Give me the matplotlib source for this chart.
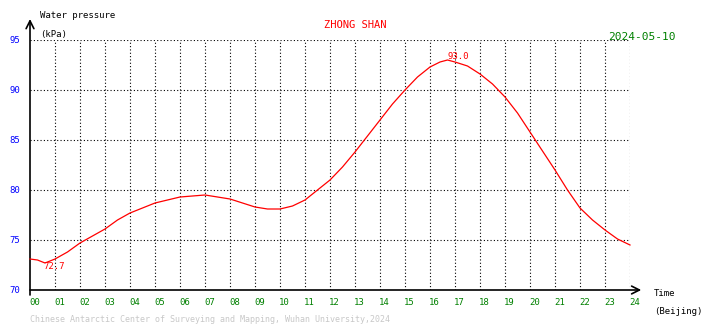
import matplotlib
matplotlib.use("Agg")
import matplotlib.pyplot as plt

# station and date
station = "ZHONG SHAN"
day = "2024-05-10"

# water pressure (kPa) against Beijing time (hours)
hours = [0.0, 0.3, 0.6, 1.0, 1.5, 2.0, 2.5, 3.0, 3.5, 4.0, 4.5, 5.0, 5.5, 6.0,
         6.5, 7.0, 7.5, 8.0, 8.5, 9.0, 9.5, 10.0, 10.5, 11.0, 11.5, 12.0,
         12.5, 13.0, 13.5, 14.0, 14.5, 15.0, 15.5, 16.0, 16.4, 16.7, 17.0,
         17.5, 18.0, 18.5, 19.0, 19.5, 20.0, 20.5, 21.0, 21.5, 22.0, 22.5,
         23.0, 23.5, 24.0]
pressure = [73.1, 73.0, 72.7, 73.1, 73.8, 74.7, 75.4, 76.1, 77.0, 77.7, 78.2,
            78.7, 79.0, 79.3, 79.4, 79.5, 79.3, 79.1, 78.7, 78.3, 78.1, 78.1,
            78.4, 79.0, 80.0, 81.0, 82.3, 83.8, 85.4, 87.0, 88.6, 90.0, 91.3,
            92.3, 92.8, 93.0, 92.8, 92.4, 91.6, 90.6, 89.3, 87.7, 85.8, 83.9,
            82.0, 80.0, 78.2, 77.0, 76.0, 75.1, 74.5]

y_ticks = [70, 75, 80, 85, 90, 95]
x_ticks = list(range(0, 25))
x_labels = ["%02d" % h for h in x_ticks]

font = "DejaVu Sans Mono"
fs = 6.5

fig = plt.figure(figsize=(7.1, 3.28), dpi=100)
ax = fig.add_axes([30 / 710, 38 / 328, 600 / 710, 250 / 328])
ax.set_xlim(0, 24)
ax.set_ylim(70, 95)
for s in ax.spines.values():
    s.set_visible(False)
ax.set_xticks([])
ax.set_yticks([])

# dotted grid
for h in x_ticks[1:]:
    ax.plot([h, h], [70, 95], color="black", lw=0.8, ls=(0, (1, 2)), zorder=1)
for v in y_ticks[1:]:
    ax.plot([0, 24], [v, v], color="black", lw=0.8, ls=(0, (1, 2)), zorder=1)

# axes with open arrow heads
ax.annotate("", xy=(24.45, 70), xytext=(0, 70), xycoords="data",
            arrowprops=dict(arrowstyle="->", lw=1.2, color="black",
                            mutation_scale=14, shrinkA=0, shrinkB=0),
            annotation_clip=False)
ax.annotate("", xy=(0, 97.1), xytext=(0, 69.5), xycoords="data",
            arrowprops=dict(arrowstyle="->", lw=1.2, color="black",
                            mutation_scale=14, shrinkA=0, shrinkB=0),
            annotation_clip=False)

# the pressure curve
ax.plot(hours, pressure, color="red", lw=0.9, zorder=3, clip_on=False)

# min / max labels
imin = pressure.index(min(pressure))
imax = pressure.index(max(pressure))
ax.text(hours[imin] + 0.35, pressure[imin] - 0.35, "%.1f" % pressure[imin],
        color="red", fontsize=fs, family=font, ha="center", va="center")
ax.text(hours[imax] + 0.45, pressure[imax] + 0.4, "%.1f" % pressure[imax],
        color="red", fontsize=fs, family=font, ha="center", va="center")

# tick labels
for v in y_ticks:
    ax.text(-0.6, v, str(v), color="blue", fontsize=fs, family=font,
            ha="center", va="center")
for h, lab in zip(x_ticks, x_labels):
    ax.text(h + 0.18, 68.8, lab, color="green", fontsize=fs, family=font,
            ha="center", va="center")

# titles and axis names
fig.text(355 / 710, 1 - 25 / 328, station, color="red", fontsize=7.5,
         family=font, ha="center", va="center")
fig.text(642 / 710, 1 - 37 / 328, day, color="green", fontsize=8,
         family=font, ha="center", va="center")
fig.text(40 / 710, 1 - 16 / 328, "Water pressure", color="black", fontsize=fs,
         family=font, ha="left", va="center")
fig.text(40 / 710, 1 - 34 / 328, "(kPa)", color="black", fontsize=fs,
         family=font, ha="left", va="center")
fig.text(654 / 710, 1 - 294 / 328, "Time", color="black", fontsize=fs,
         family=font, ha="left", va="center")
fig.text(654 / 710, 1 - 311 / 328, "(Beijing)", color="black", fontsize=fs,
         family=font, ha="left", va="center")
fig.text(30 / 710, 1 - 320 / 328,
         "Chinese Antarctic Center of Surveying and Mapping, Wuhan University,2024",
         color="#c8c8c8", fontsize=6.0, family=font, ha="left", va="center")

fig.savefig("out.png", dpi=100, facecolor="white")
